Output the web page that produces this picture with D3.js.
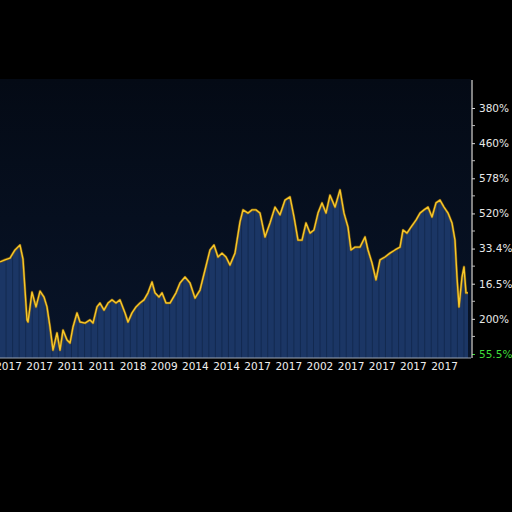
<!DOCTYPE html>
<html><head><meta charset="utf-8">
<script src="https://cdn.jsdelivr.net/npm/d3@7"></script>
<style>html,body{margin:0;padding:0;background:#000;}svg{display:block;}</style>
</head><body>
<script>
// ---- data ----
const periods = [0,5,10,15,20,23,27,28,32,36,40,44,47,50,53,57,60,63,67,70,73,77,80,85,90,93,97,100,104,108,112,116,120,125,128,132,136,140,144,148,152,155,159,162,166,170,176,180,185,190,195,200,205,210,214,218,222,226,230,235,240,243,248,252,256,260,265,270,275,280,285,290,294,298,302,306,310,314,318,322,326,330,335,340,344,348,351,355,360,365,368,372,376,380,385,390,395,400,403,407,411,416,420,424,428,432,436,440,444,448,452,455,457,459,462,464,466,468];
const values = [2.62,2.68,2.73,2.96,3.10,2.70,0.97,0.91,1.76,1.34,1.79,1.62,1.34,0.77,0.11,0.60,0.11,0.68,0.40,0.31,0.77,1.17,0.91,0.88,0.97,0.88,1.34,1.45,1.25,1.45,1.54,1.45,1.54,1.17,0.91,1.17,1.34,1.45,1.54,1.74,2.05,1.74,1.62,1.74,1.45,1.45,1.74,2.02,2.19,2.02,1.59,1.82,2.39,2.96,3.10,2.76,2.87,2.76,2.53,2.87,3.76,4.10,4.01,4.10,4.10,4.01,3.33,3.73,4.18,3.96,4.38,4.47,3.90,3.24,3.24,3.73,3.44,3.53,4.01,4.30,4.01,4.52,4.18,4.67,4.01,3.61,2.96,3.04,3.04,3.33,2.96,2.59,2.11,2.68,2.76,2.87,2.96,3.04,3.53,3.44,3.61,3.81,4.01,4.10,4.18,3.90,4.30,4.38,4.18,4.01,3.73,3.24,2.19,1.34,2.19,2.48,1.74,1.74];
const xLabels = ["2017","2017","2011","2011","2018","2009","2014","2014","2017","2017","2002","2017","2017","2017","2017"];
const yLabels = ["55.5%","200%","16.5%","33.4%","520%","578%","460%","380%"]; // bottom to top
const barCount = 72;

// ---- layout ----
const W = 512, H = 512;
const svg = d3.select("body").append("svg").attr("width", W).attr("height", H);
svg.append("rect").attr("width", W).attr("height", H).attr("fill", "#000");

const panel = {x0: 0, x1: 471, y0: 79, y1: 358};
const defs = svg.append("defs");
const grad = defs.append("linearGradient").attr("id","pg").attr("x1",0).attr("y1",0).attr("x2",0).attr("y2",1);
grad.append("stop").attr("offset","0%").attr("stop-color","#040a15");
grad.append("stop").attr("offset","100%").attr("stop-color","#081429");
svg.append("rect").attr("x",panel.x0).attr("y",panel.y0).attr("width",panel.x1-panel.x0).attr("height",panel.y1-panel.y0).attr("fill","url(#pg)");

const x = d3.scaleLinear().domain([0, 470]).range([0, 470]);
const y = d3.scaleLinear().domain([0, 7]).range([354, 108]);
const xl = d3.scaleLinear().domain([0, xLabels.length - 1]).range([8, 444]);

const data = periods.map((p,i)=>({p, v: values[i]}));

// area
const area = d3.area().x(d=>x(d.p)).y0(y.range()[0]+4).y1(d=>y(d.v)+1);
defs.append("clipPath").attr("id","ac").append("path").attr("d", area(data));
svg.append("path").attr("d", area(data)).attr("fill","#1b3665");

// bar stripes
const band = d3.scaleBand().domain(d3.range(barCount)).range([0, 470]).paddingInner(0.15);
const g = svg.append("g").attr("clip-path","url(#ac)");
g.selectAll("rect.gap").data(d3.range(barCount)).join("rect")
  .attr("x", i=>band(i)+band.bandwidth())
  .attr("y", panel.y0).attr("width", band.step()-band.bandwidth())
  .attr("height", panel.y1-panel.y0).attr("fill","#10254a").attr("opacity",0.75);

// line
const line = d3.line().x(d=>x(d.p)).y(d=>y(d.v));
svg.append("path").attr("d", line(data)).attr("fill","none").attr("stroke","#b98000").attr("stroke-width",2.6).attr("opacity",0.55).attr("stroke-linejoin","round");
svg.append("path").attr("d", line(data)).attr("fill","none").attr("stroke","#f7c72a").attr("stroke-width",1.4).attr("stroke-linejoin","round");

// right axis
const yAxis = d3.axisRight(y).tickValues(d3.range(0,8)).tickFormat(i=>yLabels[i]).tickSize(4).tickPadding(3);
const ya = svg.append("g").attr("transform","translate(472,0)").call(yAxis);
ya.select(".domain").remove();
svg.append("line").attr("x1",472).attr("x2",472).attr("y1",80).attr("y2",358).attr("stroke","#d8d8d8").attr("stroke-width",1.2);
ya.selectAll(".tick line").attr("stroke","#d8d8d8").attr("x1",0).attr("x2",3);
ya.selectAll(".tick text").attr("fill","#e8e8e8").attr("font-family","DejaVu Sans, sans-serif").attr("font-size",10.5)
  .attr("dx",0);
ya.selectAll(".tick text").filter((d)=>d===0).attr("fill","#3fdc3a");
ya.selectAll(".tick line").filter((d)=>d===0).attr("stroke","#3fdc3a");
// minor ticks
svg.append("g").selectAll("line").data(d3.range(0.5,7,1)).join("line")
  .attr("x1",472).attr("x2",475).attr("y1",d=>y(d)).attr("y2",d=>y(d)).attr("stroke","#bbb");

// bottom axis
svg.append("line").attr("x1",0).attr("x2",471).attr("y1",358).attr("y2",358).attr("stroke","#9aa4b4").attr("stroke-width",1);
const xAxis = d3.axisBottom(xl).tickValues(d3.range(xLabels.length)).tickFormat(i=>xLabels[i]).tickSize(0).tickPadding(5);
const xa = svg.append("g").attr("transform","translate(0,358)").call(xAxis);
xa.select(".domain").remove();
xa.selectAll(".tick text").attr("fill","#eeeeee").attr("font-family","DejaVu Sans, sans-serif").attr("font-size",10.5);
</script>
</body></html>
